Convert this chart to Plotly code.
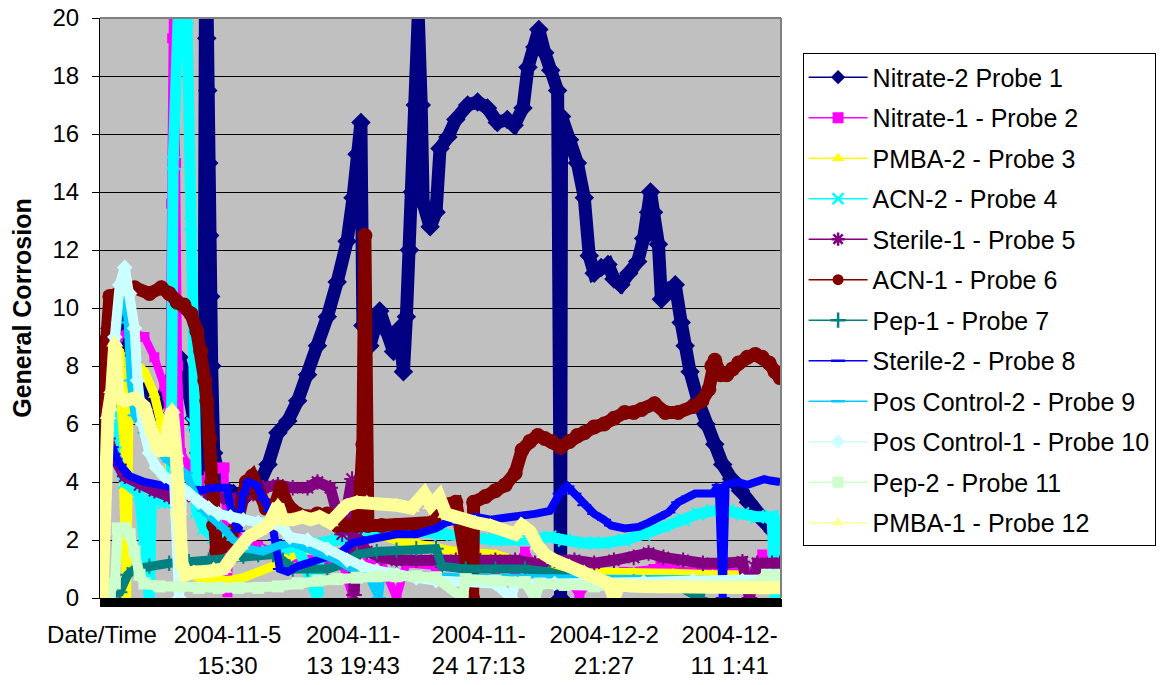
import plotly.graph_objects as go

# ---------------- data (category index = sample number, value = general corrosion) ----------------
tick_idx = [0, 127, 254, 381, 508, 635]
tick_labels = ["Date/Time", "2004-11-5<br>15:30", "2004-11-<br>13 19:43", "2004-11-<br>24 17:13",
               "2004-12-2<br>21:27", "2004-12-<br>11 1:41"]

series_names = ["Nitrate-2 Probe 1", "Nitrate-1 - Probe 2", "PMBA-2 - Probe 3", "ACN-2 - Probe 4",
                "Sterile-1 - Probe 5", "ACN-1 - Probe 6", "Pep-1 - Probe 7", "Sterile-2 - Probe 8",
                "Pos Control-2 - Probe 9", "Pos Control-1 - Probe 10", "Pep-2 - Probe 11", "PMBA-1 - Probe 12"]

nitrate2_idx = [0,2,8,16,23,38,53,68,78,86,93,98,103,105,106,107,108,109,110,111,113,120,133,148,160,168,178,188,198,208,218,228,238,248,254,258,262,264,271,281,288,295,301,305,308,311,314,317,320,323,325,332,338,342,350,358,370,380,390,400,410,417,426,431,438,442,448,454,461,464,465,473,481,488,493,498,505,512,518,525,533,542,548,553,555,558,563,566,573,580,586,590,595,603,611,620,628,637,646,654,663,671,679,686]
nitrate2_val = [7.5,8.7,9.3,9.6,9.0,7.6,6.4,7.4,8.3,7.4,6.2,5.0,4.4,24,19.3,17.5,15.0,12.5,10.4,8.0,5.0,3.9,3.6,3.6,4.0,4.6,5.7,6.1,6.8,7.7,8.7,9.7,10.9,12.3,13.8,15.3,16.4,9.4,8.7,9.9,9.2,8.5,9.3,7.8,9.7,12.0,14.0,17.0,20.1,17.0,13.6,12.8,13.3,15.5,15.9,16.5,17.0,17.1,16.9,16.4,16.5,16.3,16.9,18.3,19.0,19.6,18.8,18.2,17.5,0.0,16.6,15.8,15.0,13.8,11.8,11.2,11.4,11.5,11.0,10.8,11.2,11.6,12.4,13.3,14.0,13.3,12.2,10.3,10.6,10.8,9.5,8.7,7.8,6.8,6.0,5.3,4.6,4.1,3.7,3.3,2.9,2.6,2.3,2.1]

nitrate1_idx = [0,3,10,16,28,43,53,63,68,70,71,73,75,77,80,88,98,108,120,124,127,130,143,158,178,198,218,243,253,263,283,298,308,338,368,398,418,428,438,468,483,498,528,558,565,578,598,628,658,668,678,686]
nitrate1_val = [3.5,6.0,8.5,9.0,9.2,9.0,8.3,7.3,6.5,13.6,19.3,25,15,8,5.0,4.6,4.0,4.2,4.5,4.5,0.2,2.4,2.0,1.8,1.5,1.4,1.3,1.2,0.1,1.2,1.2,0.0,1.2,1.1,1.0,1.0,1.0,1.6,1.0,0.9,0.1,0.9,0.9,1.0,1.1,1.0,0.9,0.9,0.9,1.5,0.9,0.9]

pmba2_idx = [0,4,10,18,25,28,43,53,60,66,72,78,88,98,113,128,143,158,173,188,203,218,233,248,268,288,298,318,343,358,378,398,418,438,458,478,498,538,578,618,658,686]
pmba2_val = [3.0,6.5,8.8,8.5,0.0,8.3,7.8,7.0,6.0,5.2,3.5,1.2,0.9,0.7,0.6,0.6,0.7,0.9,1.1,1.4,1.6,1.8,2.0,2.1,2.1,2.1,2.0,1.9,1.7,1.6,1.55,1.5,1.3,1.1,1.0,0.9,0.9,0.9,0.85,0.8,0.8,0.8]

acn2_idx = [0,3,8,13,23,38,48,50,63,70,72,74,78,82,86,90,92,96,103,113,126,138,153,168,183,198,218,220,238,258,278,298,318,343,368,398,428,453,468,488,508,528,548,568,588,603,618,633,648,663,678,681,686]
acn2_val = [3.0,5.5,7.0,5.0,4.0,3.6,0.0,3.5,3.3,3.5,15,25,22,25,20,12.9,6.0,3.0,2.4,2.1,2.0,1.6,1.5,1.6,1.7,1.8,0.0,1.9,2.0,2.1,2.2,2.3,2.3,2.2,2.1,2.0,2.0,2.1,2.0,1.9,1.9,2.0,2.2,2.5,2.7,2.9,3.0,3.0,2.9,2.8,2.8,0.0,2.8]

sterile1_idx = [0,1,6,13,23,38,53,68,83,98,113,128,143,153,163,178,193,208,218,231,238,243,253,255,258,268,283,298,318,338,358,378,398,418,438,458,478,498,518,538,553,568,588,608,628,648,655,663,678,686]
sterile1_val = [6.5,7.2,5.5,4.8,4.2,3.9,3.7,3.5,3.5,3.6,3.5,3.4,3.5,3.6,3.8,3.9,3.8,3.8,4.0,3.8,2.9,2.2,4.1,0.1,2.1,1.6,1.4,1.3,1.3,1.3,1.3,1.35,1.3,1.3,1.2,1.3,1.3,1.2,1.3,1.4,1.55,1.4,1.3,1.2,1.2,1.25,0.0,1.2,1.2,1.2]

acn1_idx = [0,1,4,8,18,33,48,60,68,76,83,90,96,100,104,106,109,111,113,116,123,130,138,146,152,158,166,173,181,188,198,208,218,228,238,248,258,262,264,266,267,269,283,298,318,335,343,358,375,376,388,398,408,418,425,433,441,448,455,464,473,481,488,498,508,518,529,538,546,559,570,583,598,607,614,617,620,626,632,638,644,653,661,668,675,681,686]
acn1_val = [4.5,6.8,8.5,10.4,10.5,10.7,10.5,10.7,10.5,10.2,10.1,9.8,9.2,8.5,7.5,6.8,5.5,4.0,2.5,1.6,1.8,2.0,2.8,4.0,4.2,3.6,3.1,3.0,3.8,3.2,2.9,2.8,2.9,2.9,2.5,2.5,2.5,4.0,5.3,12.5,4.7,2.5,2.5,2.5,2.5,2.6,3.2,3.3,0.0,3.3,3.5,3.7,3.9,4.3,5.1,5.4,5.6,5.5,5.4,5.2,5.4,5.6,5.7,5.9,6.0,6.2,6.4,6.4,6.5,6.7,6.4,6.4,6.6,6.8,7.2,8.0,8.2,7.7,7.7,7.9,8.1,8.3,8.4,8.3,8.1,7.8,7.6]

pep1_idx = [0,8,18,26,33,48,68,88,108,128,143,158,173,183,193,208,228,248,258,278,298,318,338,344,368,398,428,453,468,498,538,578,605,608,638,686]
pep1_val = [0.1,0.1,0.2,0.8,1.0,1.1,1.2,1.25,1.3,1.4,1.45,1.5,1.5,1.3,1.0,1.0,1.0,1.2,1.5,1.6,1.65,1.7,1.7,1.1,1.0,1.0,1.0,0.9,0.75,0.6,0.55,0.5,0.0,0.5,0.5,0.45]

sterile2_idx = [0,3,10,18,28,43,58,73,88,98,113,126,131,138,143,148,156,163,170,175,180,188,198,208,228,243,253,268,283,298,318,338,348,363,378,393,408,423,438,453,463,471,478,488,498,508,515,529,543,553,563,573,583,593,600,610,618,624,628,631,643,653,663,670,676,686]
sterile2_val = [3.5,4.5,5.2,4.6,4.2,4.0,3.9,3.8,3.8,3.7,3.8,3.8,3.0,2.3,3.6,4.0,3.9,3.4,3.0,2.0,1.0,0.9,1.1,1.2,1.4,1.6,1.9,2.0,2.1,2.2,2.2,2.4,2.6,2.7,2.8,2.7,2.75,2.8,2.9,3.0,3.6,3.85,3.6,3.2,2.9,2.7,2.5,2.4,2.45,2.6,2.75,2.95,3.3,3.5,3.6,3.6,3.6,3.9,0.0,3.9,4.0,3.9,4.0,4.1,4.05,4.0]

poscon2_idx = [0,3,10,16,22,26,29,33,43,53,68,85,95,103,113,123,133,148,163,178,193,208,223,238,253,268,280,283,298,318,338,368,398,448,498,548,598,648,686]
poscon2_val = [3.0,4.5,7.0,9.5,11.0,9.5,7.5,6.3,5.7,5.2,4.7,4.3,3.5,3.0,2.7,2.4,2.0,1.7,1.6,1.8,1.9,1.7,1.5,1.3,1.0,0.9,0.0,0.85,0.8,0.8,0.75,0.7,0.7,0.7,0.65,0.65,0.65,0.6,0.6]

poscon1_idx = [0,3,8,13,18,23,28,33,36,41,48,55,63,73,78,81,88,98,108,118,130,143,158,171,183,190,208,228,248,263,278,298,318,338,368,398,414,418,458,498,548,598,648,686]
poscon1_val = [3.0,4.0,6.5,9.0,10.8,11.4,10.5,9.3,7.5,6.0,5.0,4.5,4.2,4.0,0.0,3.8,3.6,3.3,3.1,2.9,2.8,2.7,2.6,2.6,2.4,2.1,2.0,1.7,1.3,1.1,0.95,0.8,0.7,0.6,0.55,0.5,0.0,0.5,0.5,0.5,0.55,0.6,0.6,0.65]

pep2_idx = [0,8,13,16,23,28,33,38,43,58,78,98,118,138,158,178,198,218,238,258,278,298,318,338,365,368,398,428,438,443,468,498,538,578,618,658,673,686]
pep2_val = [0.2,0.2,0.5,2.4,2.4,2.2,1.6,0.8,0.5,0.4,0.4,0.35,0.35,0.35,0.35,0.4,0.5,0.6,0.65,0.7,0.75,0.75,0.75,0.7,0.0,0.65,0.6,0.55,0.0,0.5,0.45,0.4,0.4,0.4,0.4,0.45,0.8,0.8]

pmba1_idx = [0,1,2,6,10,13,16,23,33,43,50,56,62,68,71,75,78,81,85,93,103,113,123,131,140,148,158,168,178,183,193,203,211,220,231,240,248,258,268,283,298,313,326,333,341,348,363,378,393,408,418,425,433,441,448,458,473,488,503,513,518,523,548,578,608,638,668,686]
pmba1_val = [0.0,2.3,4.5,6.3,7.2,8.8,7.0,6.8,6.9,6.6,5.8,5.2,5.0,6.0,6.5,5.0,3.0,1.2,0.8,0.9,0.9,1.0,1.0,1.4,1.8,2.1,2.3,2.5,3.2,2.7,2.7,2.8,2.7,2.8,2.6,3.0,3.2,3.3,3.3,3.2,3.2,3.1,3.6,3.2,3.5,2.9,2.7,2.6,2.5,2.3,2.2,2.5,2.3,1.8,1.5,1.3,1.1,0.9,0.7,0.5,0.0,0.45,0.4,0.4,0.35,0.35,0.35,0.35]

# ---------------- styles ----------------
series_data = [
    (nitrate2_idx, nitrate2_val), (nitrate1_idx, nitrate1_val), (pmba2_idx, pmba2_val),
    (acn2_idx, acn2_val), (sterile1_idx, sterile1_val), (acn1_idx, acn1_val),
    (pep1_idx, pep1_val), (sterile2_idx, sterile2_val), (poscon2_idx, poscon2_val),
    (poscon1_idx, poscon1_val), (pep2_idx, pep2_val), (pmba1_idx, pmba1_val),
]
colors = ["#000080", "#FF00FF", "#FFFF00", "#00FFFF", "#800080", "#800000",
          "#008080", "#0000FF", "#00CCFF", "#CCFFFF", "#CCFFCC", "#FFFF99"]
symbols = ["diamond", "square", "triangle-up", "x-thin-open", "asterisk-open", "circle",
           "cross-thin-open", "line-ew-open", "line-ew-open", "diamond", "square", "triangle-up"]
band_widths = [13, 8, 9, 11, 11, 13, 9, 8, 8, 10, 10, 13]

FONT = "Arial, Liberation Sans, sans-serif"

fig = go.Figure()

for (xs, ys), name, col, sym, w in zip(series_data, series_names, colors, symbols, band_widths):
    open_sym = sym.endswith("-open")
    fig.add_trace(go.Scatter(
        x=xs, y=ys, mode="lines+markers", name=name, showlegend=False,
        line=dict(color=col, width=w),
        marker=dict(symbol=sym, size=w + 2, color=col,
                    line=dict(color=col, width=2 if open_sym else 0)),
        hoverinfo="skip",
    ))

# legend entries (thin line + marker, as in the original legend)
for name, col, sym in zip(series_names, colors, symbols):
    open_sym = sym.endswith("-open")
    fig.add_trace(go.Scatter(
        x=[None], y=[None], mode="lines+markers", name=name, legendgroup=name,
        line=dict(color=col, width=1.5),
        marker=dict(symbol=sym, size=11 if not sym.startswith("line") else 10, color=col,
                    line=dict(color=col, width=2.5 if open_sym else 0)),
    ))

# page body has an 8px margin: figure is placed at (8, 8) in the window
fig.update_layout(
    width=1158, height=677,
    margin=dict(l=92, r=377, t=10, b=87),
    paper_bgcolor="white", plot_bgcolor="#C0C0C0",
    font=dict(family=FONT, size=24, color="black"),
    showlegend=True,
    legend=dict(
        x=1.0317, xanchor="left", y=0.939, yanchor="top",
        bgcolor="white", bordercolor="black", borderwidth=1,
        font=dict(family=FONT, size=25, color="black"),
        tracegroupgap=5, itemwidth=59, traceorder="grouped",
    ),
    xaxis=dict(
        range=[-2, 687], tickmode="array", tickvals=tick_idx, ticktext=tick_labels,
        showgrid=False, zeroline=False, showline=True, linecolor="black", linewidth=1,
        ticks="outside", ticklen=8, tickcolor="black",
        minor=dict(dtick=1, tick0=0, ticks="outside", ticklen=8, tickcolor="black", tickwidth=1, showgrid=False),
        tickfont=dict(family=FONT, size=24), ticklabelstandoff=7, automargin=False,
        ticklabeloverflow="allow",
    ),
    yaxis=dict(
        range=[0, 20], tickmode="linear", tick0=0, dtick=2,
        showgrid=True, gridcolor="black", gridwidth=1, zeroline=False,
        showline=True, linecolor="black", linewidth=1,
        ticks="outside", ticklen=7, tickcolor="black",
        tickfont=dict(family=FONT, size=24), ticklabelstandoff=8,
        title=dict(text="<b>General Corrosion</b>", font=dict(family=FONT, size=25), standoff=14),
        automargin=False, ticklabeloverflow="allow",
    ),
    shapes=[
        dict(type="line", xref="paper", yref="paper", x0=0, x1=1, y0=1, y1=1,
             line=dict(color="#808080", width=2), layer="above"),
        dict(type="line", xref="paper", yref="paper", x0=1, x1=1, y0=0, y1=1,
             line=dict(color="#808080", width=2), layer="above"),
    ],
)

fig.write_html("out.html")
